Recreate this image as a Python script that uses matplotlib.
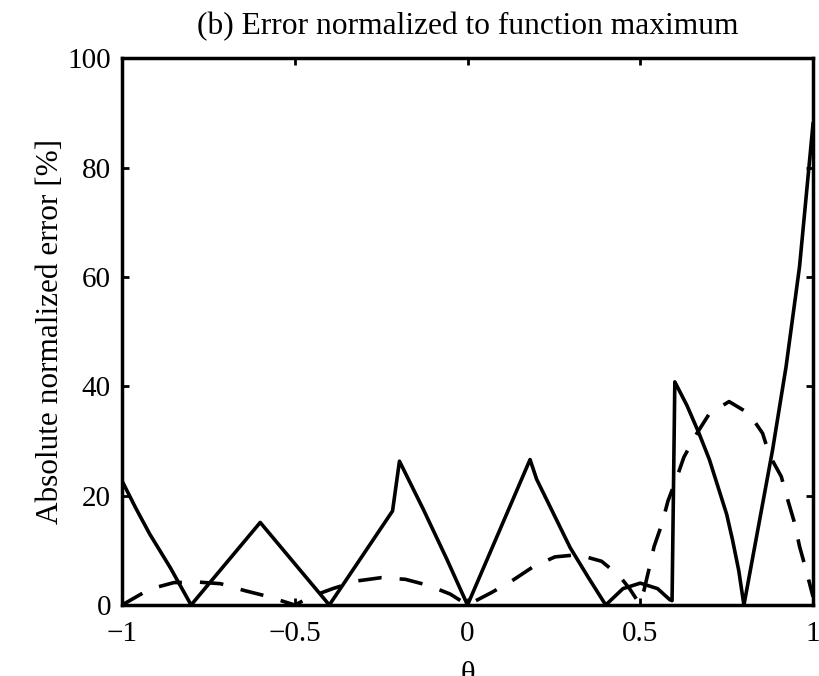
import matplotlib
matplotlib.use('Agg')
import matplotlib.pyplot as plt

plt.rcParams['font.family'] = ['Liberation Serif', 'DejaVu Serif']

# solid curve
x_solid = [-1.0, -0.96, -0.92, -0.86, -0.8, -0.6, -0.4, -0.217, -0.197,
           -0.128, -0.06, 0.0, 0.181, 0.2, 0.297, 0.35, 0.4, 0.45, 0.5,
           0.55, 0.585, 0.592, 0.6, 0.635, 0.67, 0.7, 0.728, 0.75, 0.767,
           0.785, 0.8, 0.883, 0.922, 0.961, 1.0]
y_solid = [22.7, 17.7, 13.0, 6.8, 0.0, 15.1, 0.0, 17.2, 26.3,
           17.5, 8.4, 0.0, 26.6, 23.0, 10.5, 5.0, 0.0, 3.0, 4.0,
           3.0, 1.0, 0.8, 40.8, 36.5, 31.4, 26.6, 21.0, 16.6, 11.9,
           6.3, 0.0, 28.4, 43.6, 61.9, 88.0]

# dashed curve
x_dash = [-1.0, -0.92, -0.85, -0.78, -0.715, -0.643, -0.58, -0.5, -0.45,
          -0.39, -0.32, -0.25, -0.18, -0.114, -0.05, 0.0, 0.07, 0.128,
          0.19, 0.253, 0.32, 0.388, 0.44, 0.47, 0.497, 0.51, 0.525, 0.54,
          0.563, 0.58, 0.604, 0.626, 0.66, 0.70, 0.757, 0.815, 0.854,
          0.874, 0.908, 0.927, 0.947, 0.961, 0.98, 1.0]
y_dash = [0.0, 2.9, 4.1, 4.2, 3.9, 2.6, 1.6, 0.0, 1.6,
          3.0, 4.4, 5.0, 4.7, 3.6, 2.0, 0.0, 2.3, 4.4,
          7.0, 8.8, 9.2, 8.0, 5.3, 2.9, 0.3, 2.5, 6.5, 10.7,
          14.9, 19.0, 23.0, 27.0, 31.0, 35.0, 37.2, 35.0, 31.4,
          27.4, 23.5, 19.2, 14.9, 10.7, 6.4, 1.5]

x_ticks = [-1, -0.5, 0, 0.5, 1]
x_ticklabels = ['\u22121', '\u22120.5', '0', '0.5', '1']
y_ticks = [0, 20, 40, 60, 80, 100]

fig = plt.figure(figsize=(8.2, 6.76), dpi=100)
ax = fig.add_axes([0.1488, 0.105, 0.8427, 0.809])

ax.plot(x_solid, y_solid, color='black', lw=2.6)
ax.plot(x_dash, y_dash, color='black', lw=2.6, dashes=(6.5, 5))

ax.set_xlim(-1, 1)
ax.set_ylim(0, 100)
ax.set_xticks(x_ticks)
ax.set_xticklabels(x_ticklabels)
ax.set_yticks(y_ticks)
ax.tick_params(direction='in', length=5, width=2, top=True, right=True,
               labelsize=21)
ax.tick_params(axis='x', pad=11.5)
ax.tick_params(axis='y', pad=8)
for s in ax.spines.values():
    s.set_linewidth(2.5)

ax.set_title('(b) Error normalized to function maximum', fontsize=22.7, pad=17)
ax.set_ylabel('Absolute normalized error [%]', fontsize=22.5, labelpad=2)
# the reference cuts this label off at the bottom edge
ax.set_xlabel('\u03b8', fontsize=22, labelpad=10)

fig.savefig('out.png', dpi=100)
